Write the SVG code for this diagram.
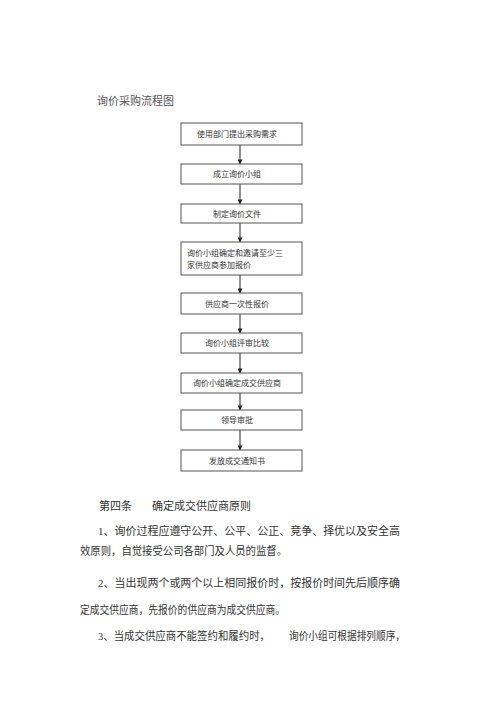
<svg xmlns="http://www.w3.org/2000/svg" width="500" height="707" viewBox="0 0 500 707">
<defs>
<marker id="ah" viewBox="0 0 6 6" refX="5.5" refY="3" markerWidth="5" markerHeight="5" orient="auto" markerUnits="userSpaceOnUse">
<path d="M0,0 L6,3 L0,6 Z" fill="#222"/>
</marker>
<style>
.box{fill:#fff;stroke:#555;stroke-width:1}
.bt{font-family:"Liberation Sans","Noto Sans CJK SC",sans-serif;font-size:8px;fill:#333}
.c{text-anchor:middle}
.body{font-family:"Liberation Serif","Noto Sans CJK SC",serif;font-size:11px;fill:#333}
.title{font-family:"Liberation Serif","Noto Sans CJK SC",serif;font-size:11px;fill:#555}
.conn{stroke:#222;stroke-width:1;fill:none;marker-end:url(#ah)}
</style>
</defs>
<rect width="500" height="707" fill="#fff"/>
<text class="title" x="97" y="105" textLength="77" lengthAdjust="spacingAndGlyphs">询价采购流程图</text>

<g id="connectors">
<line class="conn" x1="240" y1="145" x2="240" y2="164"/>
<line class="conn" x1="240" y1="184" x2="240" y2="204"/>
<line class="conn" x1="240" y1="223" x2="240" y2="242"/>
<line class="conn" x1="240" y1="275" x2="240" y2="293"/>
<line class="conn" x1="240" y1="314" x2="240" y2="333"/>
<line class="conn" x1="240" y1="353" x2="240" y2="373"/>
<line class="conn" x1="240" y1="393" x2="240" y2="410"/>
<line class="conn" x1="240" y1="430" x2="240" y2="450"/>
</g>

<g id="n1"><rect class="box" x="181" y="123" width="121" height="22"/><text class="bt c" x="237" y="136.5">使用部门提出采购需求</text></g>
<g id="n2"><rect class="box" x="181" y="164" width="121" height="20"/><text class="bt c" x="237" y="177">成立询价小组</text></g>
<g id="n3"><rect class="box" x="181" y="204" width="121" height="19"/><text class="bt c" x="237" y="216.5">制定询价文件</text></g>
<g id="n4"><rect class="box" x="181" y="242" width="121" height="33"/><text class="bt" x="187" y="256">询价小组确定和邀请至少三</text><text class="bt" x="187" y="268">家供应商参加报价</text></g>
<g id="n5"><rect class="box" x="181" y="293" width="121" height="21"/><text class="bt c" x="237" y="306.5">供应商一次性报价</text></g>
<g id="n6"><rect class="box" x="181" y="333" width="121" height="20"/><text class="bt c" x="237" y="346">询价小组评审比较</text></g>
<g id="n7"><rect class="box" x="181" y="373" width="121" height="20"/><text class="bt c" x="237" y="386">询价小组确定成交供应商</text></g>
<g id="n8"><rect class="box" x="181" y="410" width="121" height="20"/><text class="bt c" x="237" y="423">领导审批</text></g>
<g id="n9"><rect class="box" x="181" y="450" width="121" height="21"/><text class="bt c" x="237" y="463.5">发放成交通知书</text></g>

<text class="body" x="99" y="509.5">第四条</text>
<text class="body" x="152" y="509.5">确定成交供应商原则</text>
<text class="body" x="98" y="535" textLength="302" lengthAdjust="spacingAndGlyphs">1、询价过程应遵守公开、公平、公正、竞争、择优以及安全高</text>
<text class="body" x="80" y="555" textLength="207" lengthAdjust="spacingAndGlyphs">效原则，自觉接受公司各部门及人员的监督。</text>
<text class="body" x="98" y="587" textLength="302" lengthAdjust="spacingAndGlyphs">2、当出现两个或两个以上相同报价时，按报价时间先后顺序确</text>
<text class="body" x="80" y="614" textLength="205" lengthAdjust="spacingAndGlyphs">定成交供应商，先报价的供应商为成交供应商。</text>
<text class="body" x="98" y="640" textLength="172" lengthAdjust="spacingAndGlyphs">3、当成交供应商不能签约和履约时，</text>
<text class="body" x="289" y="640" textLength="116" lengthAdjust="spacingAndGlyphs">询价小组可根据排列顺序，</text>
</svg>
